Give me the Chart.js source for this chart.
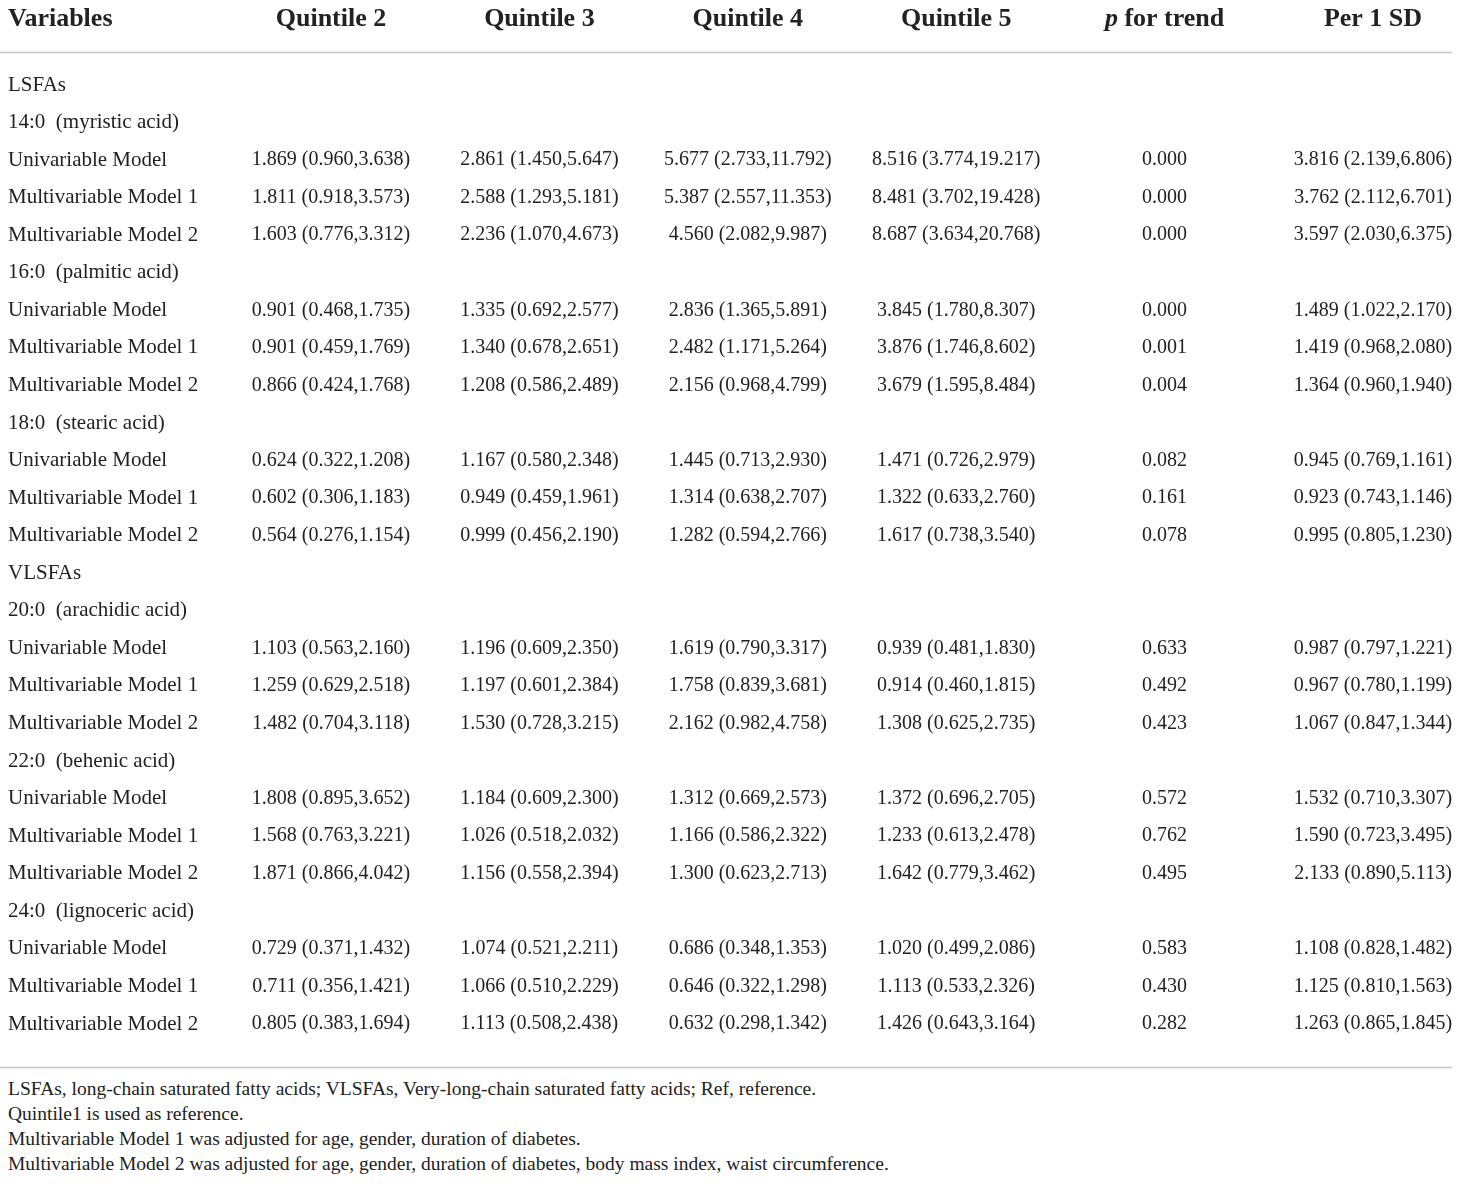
<!DOCTYPE html>
<html>
<head>
<meta charset="utf-8">
<script src="https://cdn.jsdelivr.net/npm/chart.js@4.4.1/dist/chart.umd.min.js"></script>
<style>
  body { margin: 0; background: #fff; }
  #notes {
    width: 1460px;
    padding-left: 8px;
    box-sizing: border-box;
    font-family: "Liberation Serif", serif;
    font-size: 19.5px;
    line-height: 25px;
    color: #222;
  }
</style>
</head>
<body>
<canvas id="table" width="1460" height="1076"></canvas>
<div id="notes">
  <div>LSFAs, long-chain saturated fatty acids; VLSFAs, Very-long-chain saturated fatty acids; Ref, reference.</div>
  <div>Quintile1 is used as reference.</div>
  <div>Multivariable Model 1 was adjusted for age, gender, duration of diabetes.</div>
  <div>Multivariable Model 2 was adjusted for age, gender, duration of diabetes, body mass index, waist circumference.</div>
</div>
<script>
const groups = ['LSFAs', 'VLSFAs'];
const acids = [
  ['14:0  (myristic acid)', '16:0  (palmitic acid)', '18:0  (stearic acid)'],
  ['20:0  (arachidic acid)', '22:0  (behenic acid)', '24:0  (lignoceric acid)']
];
const models = ['Univariable Model', 'Multivariable Model 1', 'Multivariable Model 2'];
const columns = ['Quintile 2', 'Quintile 3', 'Quintile 4', 'Quintile 5', 'p for trend', 'Per 1 SD'];

// [estimate, lower, upper], one entry per model row, top to bottom
const q2 = [
  [1.869, 0.960, 3.638], [1.811, 0.918, 3.573], [1.603, 0.776, 3.312],
  [0.901, 0.468, 1.735], [0.901, 0.459, 1.769], [0.866, 0.424, 1.768],
  [0.624, 0.322, 1.208], [0.602, 0.306, 1.183], [0.564, 0.276, 1.154],
  [1.103, 0.563, 2.160], [1.259, 0.629, 2.518], [1.482, 0.704, 3.118],
  [1.808, 0.895, 3.652], [1.568, 0.763, 3.221], [1.871, 0.866, 4.042],
  [0.729, 0.371, 1.432], [0.711, 0.356, 1.421], [0.805, 0.383, 1.694]
];
const q3 = [
  [2.861, 1.450, 5.647], [2.588, 1.293, 5.181], [2.236, 1.070, 4.673],
  [1.335, 0.692, 2.577], [1.340, 0.678, 2.651], [1.208, 0.586, 2.489],
  [1.167, 0.580, 2.348], [0.949, 0.459, 1.961], [0.999, 0.456, 2.190],
  [1.196, 0.609, 2.350], [1.197, 0.601, 2.384], [1.530, 0.728, 3.215],
  [1.184, 0.609, 2.300], [1.026, 0.518, 2.032], [1.156, 0.558, 2.394],
  [1.074, 0.521, 2.211], [1.066, 0.510, 2.229], [1.113, 0.508, 2.438]
];
const q4 = [
  [5.677, 2.733, 11.792], [5.387, 2.557, 11.353], [4.560, 2.082, 9.987],
  [2.836, 1.365, 5.891], [2.482, 1.171, 5.264], [2.156, 0.968, 4.799],
  [1.445, 0.713, 2.930], [1.314, 0.638, 2.707], [1.282, 0.594, 2.766],
  [1.619, 0.790, 3.317], [1.758, 0.839, 3.681], [2.162, 0.982, 4.758],
  [1.312, 0.669, 2.573], [1.166, 0.586, 2.322], [1.300, 0.623, 2.713],
  [0.686, 0.348, 1.353], [0.646, 0.322, 1.298], [0.632, 0.298, 1.342]
];
const q5 = [
  [8.516, 3.774, 19.217], [8.481, 3.702, 19.428], [8.687, 3.634, 20.768],
  [3.845, 1.780, 8.307], [3.876, 1.746, 8.602], [3.679, 1.595, 8.484],
  [1.471, 0.726, 2.979], [1.322, 0.633, 2.760], [1.617, 0.738, 3.540],
  [0.939, 0.481, 1.830], [0.914, 0.460, 1.815], [1.308, 0.625, 2.735],
  [1.372, 0.696, 2.705], [1.233, 0.613, 2.478], [1.642, 0.779, 3.462],
  [1.020, 0.499, 2.086], [1.113, 0.533, 2.326], [1.426, 0.643, 3.164]
];
const pTrend = [
  0.000, 0.000, 0.000,
  0.000, 0.001, 0.004,
  0.082, 0.161, 0.078,
  0.633, 0.492, 0.423,
  0.572, 0.762, 0.495,
  0.583, 0.430, 0.282
];
const perSD = [
  [3.816, 2.139, 6.806], [3.762, 2.112, 6.701], [3.597, 2.030, 6.375],
  [1.489, 1.022, 2.170], [1.419, 0.968, 2.080], [1.364, 0.960, 1.940],
  [0.945, 0.769, 1.161], [0.923, 0.743, 1.146], [0.995, 0.805, 1.230],
  [0.987, 0.797, 1.221], [0.967, 0.780, 1.199], [1.067, 0.847, 1.344],
  [1.532, 0.710, 3.307], [1.590, 0.723, 3.495], [2.133, 0.890, 5.113],
  [1.108, 0.828, 1.482], [1.125, 0.810, 1.563], [1.263, 0.865, 1.845]
];

const serif = '"Liberation Serif", "Times New Roman", serif';
const ink = '#222';

// build the row list (group, acid, then its three models)
const rowLabels = [];
const modelRows = [];
groups.forEach((g, gi) => {
  rowLabels.push(g);
  acids[gi].forEach(a => {
    rowLabels.push(a);
    models.forEach(m => {
      rowLabels.push(m);
      modelRows.push(rowLabels.length - 1);
    });
  });
});

const ci = v => `${v[0].toFixed(3)} (${v[1].toFixed(3)},${v[2].toFixed(3)})`;
const columnData = [q2, q3, q4, q5, pTrend, perSD];

const datasets = columnData.map((col, c) => ({
  label: columns[c],
  data: col.map((v, i) => ({
    x: c,
    y: modelRows[i],
    text: Array.isArray(v) ? ci(v) : v.toFixed(3)
  })),
  pointRadius: 0,
  pointHoverRadius: 0
}));

const tableText = {
  id: 'tableText',
  afterDatasetsDraw(chart) {
    const { ctx, scales: { x } } = chart;
    ctx.save();
    ctx.fillStyle = ink;
    ctx.textBaseline = 'middle';

    // cells
    ctx.font = `20px ${serif}`;
    ctx.textAlign = 'center';
    chart.data.datasets.forEach((ds, di) => {
      chart.getDatasetMeta(di).data.forEach((pt, i) => {
        ctx.fillText(ds.data[i].text, pt.x, pt.y);
      });
    });

    // header row
    const headY = 19;
    ctx.font = `bold 26px ${serif}`;
    ctx.textAlign = 'left';
    ctx.fillText('Variables', 8, headY);
    columns.forEach((c, i) => {
      const cx = x.getPixelForValue(i);
      if (c.startsWith('p ')) {
        const rest = c.slice(1);
        ctx.font = `italic bold 26px ${serif}`;
        const w1 = ctx.measureText('p').width;
        ctx.font = `bold 26px ${serif}`;
        const w2 = ctx.measureText(rest).width;
        const left = cx - (w1 + w2) / 2;
        ctx.textAlign = 'left';
        ctx.font = `italic bold 26px ${serif}`;
        ctx.fillText('p', left, headY);
        ctx.font = `bold 26px ${serif}`;
        ctx.fillText(rest, left + w1, headY);
      } else {
        ctx.textAlign = 'center';
        ctx.fillText(c, cx, headY);
      }
    });

    // rules
    ctx.strokeStyle = '#c4c4c4';
    ctx.lineWidth = 1.5;
    ctx.beginPath();
    ctx.moveTo(0, 52.5);
    ctx.lineTo(1452, 52.5);
    ctx.moveTo(0, 1067.5);
    ctx.lineTo(1452, 1067.5);
    ctx.stroke();
    ctx.restore();
  }
};

new Chart(document.getElementById('table'), {
  type: 'scatter',
  data: { datasets },
  options: {
    responsive: false,
    animation: false,
    events: [],
    layout: {
      padding: { top: 85, bottom: 52, left: 8, right: 87 }
    },
    scales: {
      x: {
        type: 'linear',
        min: 0,
        max: columns.length - 1,
        display: false
      },
      y: {
        type: 'linear',
        position: 'left',
        reverse: true,
        min: 0,
        max: rowLabels.length - 1,
        afterFit(scale) {
          scale.width = 323;
        },
        afterBuildTicks(scale) {
          scale.ticks = rowLabels.map((_, i) => ({ value: i }));
        },
        grid: { display: false },
        border: { display: false },
        ticks: {
          autoSkip: false,
          crossAlign: 'far',
          padding: 0,
          color: ink,
          font: { family: serif, size: 21 },
          callback: v => rowLabels[v]
        }
      }
    },
    plugins: {
      legend: { display: false },
      tooltip: { enabled: false }
    }
  },
  plugins: [tableText]
});
</script>
</body>
</html>
